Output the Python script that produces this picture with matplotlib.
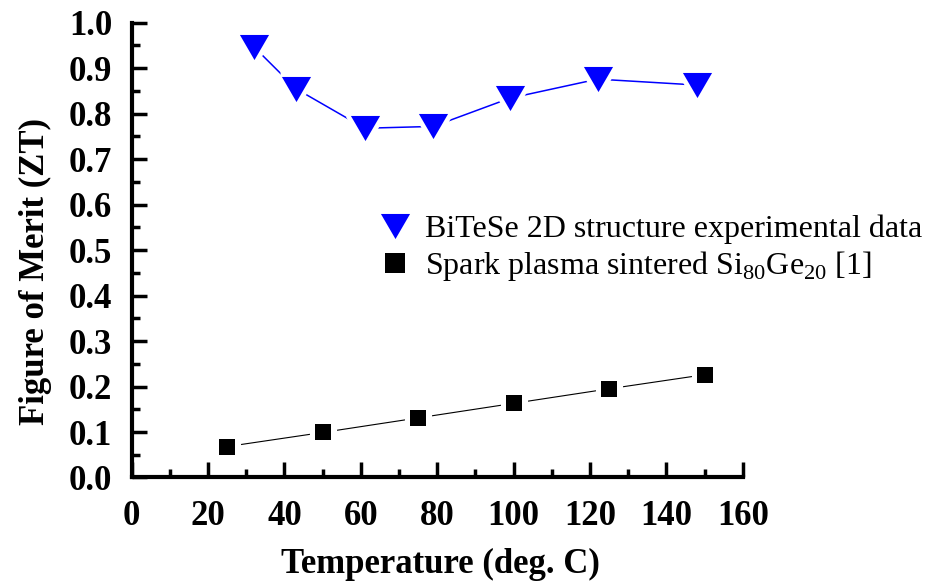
import numpy as np
import matplotlib
matplotlib.use("Agg")
import matplotlib.pyplot as plt
from matplotlib.lines import Line2D

plt.rcParams['font.family'] = ['Liberation Serif', 'DejaVu Serif']
plt.rcParams['mathtext.fontset'] = 'custom'
plt.rcParams['mathtext.rm'] = 'Liberation Serif'

# BiTeSe 2D structure experimental data
bitese_temp = [32, 43, 61, 79, 99, 122, 148]
bitese_zt = [0.947, 0.855, 0.768, 0.772, 0.834, 0.876, 0.863]

# Spark plasma sintered Si80Ge20 [1]
sige_temp = [25, 50, 75, 100, 125, 150]
sige_zt = [0.068, 0.099, 0.131, 0.163, 0.195, 0.226]

x_ticks = [0, 20, 40, 60, 80, 100, 120, 140, 160]
y_ticks = [0.0, 0.1, 0.2, 0.3, 0.4, 0.5, 0.6, 0.7, 0.8, 0.9, 1.0]

# downward triangle, a bit wider than tall
tri = [(-1, 0.86), (1, 0.86), (0, -0.86), (-1, 0.86)]

fig = plt.figure(figsize=(9.4, 5.83), dpi=100)
ax = fig.add_axes([0.1401, 0.181, 0.650, 0.780])

# connecting lines, then white halo so the lines stop short of the markers
ax.plot(bitese_temp, bitese_zt, color='#0000ff', lw=1.1, zorder=2)
ax.plot(sige_temp, sige_zt, color='black', lw=0.8, zorder=2)
ax.plot(bitese_temp, bitese_zt, ls='none', marker=tri, ms=23, mfc='white',
        mec='white', mew=6, zorder=3)
ax.plot(sige_temp, sige_zt, ls='none', marker='s', ms=12, mfc='white',
        mec='white', mew=8, zorder=3)
ax.plot(bitese_temp, bitese_zt, ls='none', marker=tri, ms=21,
        mfc='#0000ff', mew=0, zorder=4)
ax.plot(sige_temp, sige_zt, ls='none', marker='s', ms=11.5,
        mfc='black', mew=0, zorder=4)

ax.set_xlim(0, 160)
ax.set_ylim(0, 1.0)
ax.set_xticks(x_ticks)
ax.set_yticks(y_ticks)
ax.set_xticks(np.arange(10, 160, 20), minor=True)
ax.set_yticks(np.arange(0.05, 1.0, 0.1), minor=True)
ax.set_xticklabels([str(v) for v in x_ticks])
ax.set_yticklabels(['%.1f' % v for v in y_ticks])

for side in ['top', 'right']:
    ax.spines[side].set_visible(False)
for side in ['left', 'bottom']:
    ax.spines[side].set_linewidth(3)
    ax.spines[side].set_capstyle('projecting')

ax.tick_params(axis='both', which='major', direction='in', length=11, width=2.5,
               labelsize=25)
ax.tick_params(axis='both', which='minor', direction='in', length=5.5, width=2.5)
ax.tick_params(axis='x', which='major', pad=16)
ax.tick_params(axis='y', which='major', pad=14)
for lab in ax.get_xticklabels() + ax.get_yticklabels():
    lab.set_fontweight('bold')

ax.set_xlabel('Temperature (deg. C)', fontsize=25, fontweight='bold')
ax.set_ylabel('Figure of Merit (ZT)', fontsize=25, fontweight='bold')
ax.xaxis.set_label_coords(0.505, -0.155)
ax.yaxis.set_label_coords(-0.131, 0.452)

# legend markers are drawn a little larger than the plotted ones
leg_handles = [
    Line2D([], [], ls='none', marker=tri, ms=21, mfc='#0000ff', mew=0),
    Line2D([], [], ls='none', marker='s', ms=14.5, mfc='black', mew=0),
]
ax.legend(leg_handles,
          ['BiTeSe 2D structure experimental data',
           r'Spark plasma sintered Si$_{\mathrm{80}}$Ge$_{\mathrm{20}}$ [1]'],
          loc='upper left', bbox_to_anchor=(0.405, 0.578), frameon=False,
          fontsize=23, handlelength=1.0, handletextpad=0.45, labelspacing=0.15,
          borderaxespad=0, borderpad=0)

fig.savefig('out.png', dpi=100)
